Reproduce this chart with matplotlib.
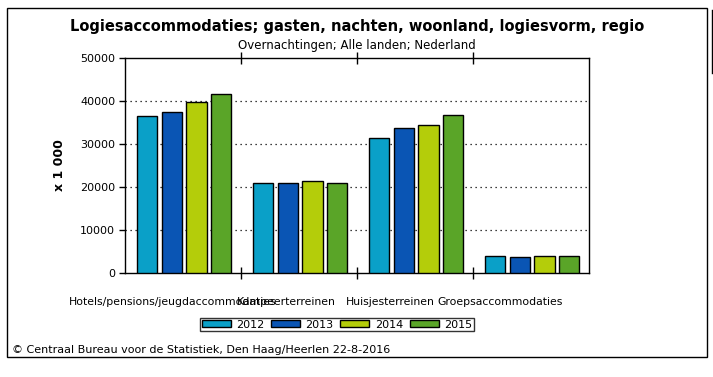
import numpy as np
import matplotlib.pyplot as plt
from matplotlib.patches import Patch, Rectangle
from matplotlib.lines import Line2D
from matplotlib.transforms import ScaledTranslation

categories = ["Hotels/pensions/jeugdaccommodaties", "Kampeerterreinen",
              "Huisjesterreinen", "Groepsaccommodaties"]
years = ["2012", "2013", "2014", "2015"]
values = {
    "2012": [36500, 20900, 31300, 3900],
    "2013": [37400, 20900, 33700, 3650],
    "2014": [39700, 21300, 34400, 3900],
    "2015": [41600, 20900, 36700, 3900],
}
colors = ["#0aa0c8", "#0a55b4", "#b4cd0a", "#5aa528"]

W, H = 713, 377
fig = plt.figure(figsize=(W / 100, H / 100), dpi=100)
ax = fig.add_axes([125 / W, 1 - 273 / H, (589 - 125) / W, (273 - 58) / H])

x = np.arange(len(categories))
step = 0.213
width = 0.177
for i, (yr, c) in enumerate(zip(years, colors)):
    ax.bar(x + (i - 1.5) * step + 0.01, values[yr], width, color=c,
           edgecolor="black", linewidth=1, zorder=3)

ax.set_xlim(-0.5, 3.5)
ax.set_ylim(0, 50000)
ax.set_yticks(range(0, 50001, 10000))
for yv in range(10000, 50000, 10000):
    ax.axhline(yv, color="black", linestyle=(0, (1, 3)), linewidth=0.9, zorder=1)

ax.set_xticks(x)
ax.set_xticklabels(categories, fontsize=7.8)
ax.tick_params(axis="x", which="major", length=0, pad=17)
ax.set_xticks([0.5, 1.5, 2.5], minor=True)
ax.tick_params(axis="x", which="minor", direction="inout", length=9,
               top=True, width=1)
ax.tick_params(axis="y", length=4, width=1, labelsize=8, pad=3)
offsets = [-10, -13, -25, -31]
for lab, dx in zip(ax.get_xticklabels(), offsets):
    lab.set_transform(lab.get_transform() + ScaledTranslation(dx / 100, 0, fig.dpi_scale_trans))

for s in ax.spines.values():
    s.set_linewidth(1)

ax.set_ylabel("x 1 000", fontsize=9, fontweight="bold", labelpad=10)

fig.text(357 / W, 1 - 26 / H, "Logiesaccommodaties; gasten, nachten, woonland, logiesvorm, regio",
         ha="center", va="center", fontsize=10.5, fontweight="bold")
fig.text(357 / W, 1 - 45 / H, "Overnachtingen; Alle landen; Nederland",
         ha="center", va="center", fontsize=8.5)

handles = [Patch(facecolor=c, edgecolor="black", linewidth=1) for c in colors]
leg = fig.legend(handles, years, loc="center", bbox_to_anchor=(337 / W, 1 - 324.5 / H),
                 ncol=4, fontsize=8, frameon=True, fancybox=False, handlelength=2.6,
                 handleheight=0.6, handletextpad=0.5, columnspacing=0.6,
                 borderpad=0.15, borderaxespad=0)
leg.get_frame().set_edgecolor("black")
leg.get_frame().set_linewidth(1)

fig.text(12 / W, 1 - 350 / H, "\u00a9 Centraal Bureau voor de Statistiek, Den Haag/Heerlen 22-8-2016",
         ha="left", va="center", fontsize=8)

fig.patches.append(Rectangle((7 / W, 1 - 357 / H), 700 / W, 349 / H, transform=fig.transFigure,
                             fill=False, edgecolor="black", linewidth=1))
fig.lines.append(Line2D([712 / W, 712 / W], [1 - 10 / H, 1 - 73 / H], transform=fig.transFigure,
                        color="black", linewidth=1))

fig.savefig("out.png", dpi=100)
